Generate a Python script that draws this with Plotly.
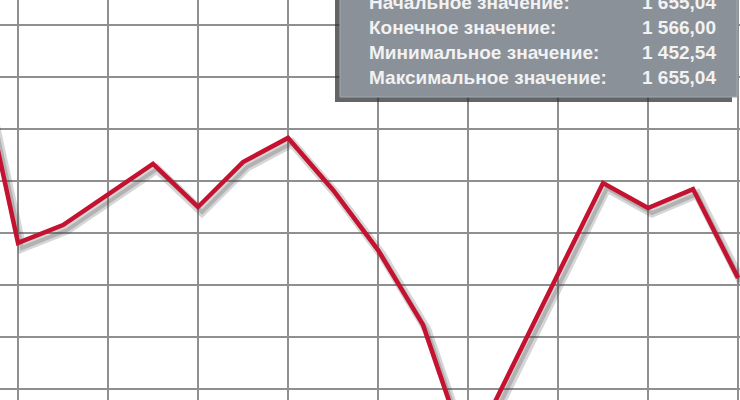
import plotly.graph_objects as go

# trading days (index) and index values
days = list(range(18))
values = [1655.04, 1555.2, 1563.8, 1578.3, 1593.2, 1572.5, 1594.1, 1605.7,
          1580.7, 1551.8, 1515.8, 1452.54, 1497.0, 1540.3, 1584.0, 1572.0,
          1581.1, 1538.4]

info_labels = ["Начальное значение:", "Конечное значение:",
               "Минимальное значение:", "Максимальное значение:"]
info_values = ["1 655,04", "1 566,00", "1 452,54", "1 655,04"]

W, H = 740, 400
x_range = [0.6, 17.044]
y_range = [1479.7, 1672.0]
# shadow offset in pixels
dx_px, dy_px = 4, 5
px_per_x = W / (x_range[1] - x_range[0])
px_per_y = H / (y_range[1] - y_range[0])
x_range_sh = [x_range[0] - dx_px / px_per_x, x_range[1] - dx_px / px_per_x]
y_range_sh = [y_range[0] + dy_px / px_per_y, y_range[1] + dy_px / px_per_y]

fig = go.Figure()
# shadow line (base axes, shifted range)
fig.add_trace(go.Scatter(x=days, y=values, mode="lines",
                         line=dict(color="rgba(70,70,70,0.22)", width=9),
                         xaxis="x", yaxis="y", hoverinfo="skip", showlegend=False))
fig.add_trace(go.Scatter(x=days, y=values, mode="lines",
                         line=dict(color="rgba(70,70,70,0.25)", width=4),
                         xaxis="x", yaxis="y", hoverinfo="skip", showlegend=False))
# main red line
fig.add_trace(go.Scatter(x=days, y=values, mode="lines",
                         line=dict(color="#c41230", width=4.5),
                         xaxis="x2", yaxis="y2", showlegend=False))

fig.update_layout(
    width=W, height=H, autosize=False,
    margin=dict(l=0, r=0, t=0, b=0),
    paper_bgcolor="white", plot_bgcolor="white",
    xaxis=dict(range=x_range_sh, showgrid=False, zeroline=False,
               showticklabels=False, showline=False, ticks=""),
    yaxis=dict(range=y_range_sh, showgrid=False, zeroline=False,
               showticklabels=False, showline=False, ticks=""),
    xaxis2=dict(range=x_range, overlaying="x", showgrid=True,
                gridcolor="#8f8f8f", gridwidth=1.6, tick0=1, dtick=2,
                zeroline=False, showticklabels=False, showline=False, ticks=""),
    yaxis2=dict(range=y_range, overlaying="y", showgrid=True,
                gridcolor="#8f8f8f", gridwidth=1.6, tick0=1660, dtick=25,
                zeroline=False, showticklabels=False, showline=False, ticks=""),
)

# info box with shadow
bx0, bx1, by1 = 340, 737, 97
fig.add_shape(type="rect", xref="paper", yref="paper", layer="above",
              x0=(bx0 - 5) / W, x1=(bx1 - 5) / W, y0=1 - (by1 + 5) / H, y1=1.05,
              fillcolor="rgba(50,50,50,0.75)", line=dict(width=0))
fig.add_shape(type="rect", xref="paper", yref="paper", layer="above",
              x0=bx0 / W, x1=bx1 / W, y0=1 - by1 / H, y1=1.05,
              fillcolor="#8b9199", line=dict(color="#a3a9b0", width=1))

row_y = [3, 27, 52, 77]
for lab, val, yy in zip(info_labels, info_values, row_y):
    fig.add_annotation(xref="paper", yref="paper", x=367 / W, y=1 - yy / H,
                       xanchor="left", yanchor="middle", showarrow=False,
                       text=lab, font=dict(family="Liberation Sans", size=19,
                                           color="#f2f2f2", weight="bold"))
    fig.add_annotation(xref="paper", yref="paper", x=718 / W, y=1 - yy / H,
                       xanchor="right", yanchor="middle", showarrow=False,
                       text=val, font=dict(family="Liberation Sans", size=19,
                                           color="#f2f2f2", weight="bold"))

fig.write_html("out.html", config={"displayModeBar": False},
               post_script="document.body.style.margin='0';"
                           "document.body.style.overflow='hidden';")
